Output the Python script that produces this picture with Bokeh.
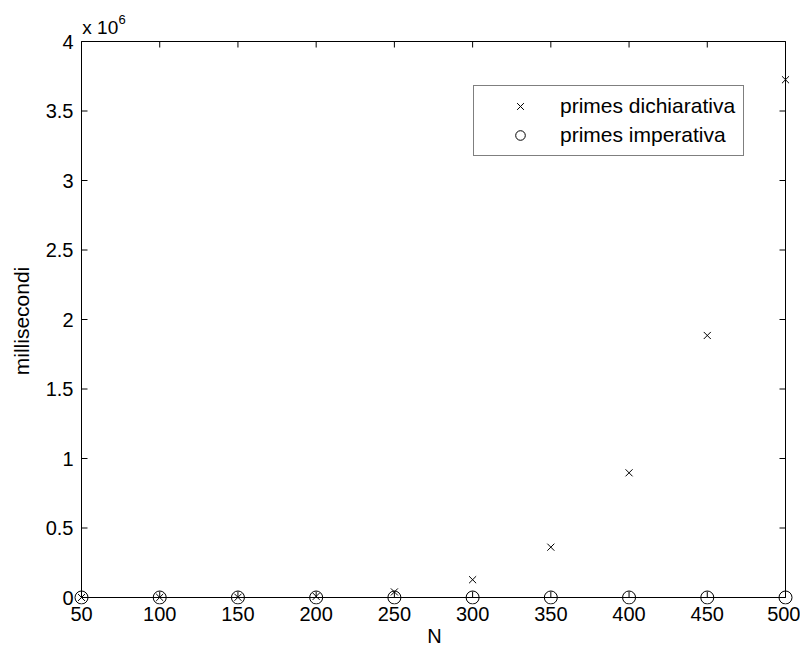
import math
from bokeh.plotting import figure
from bokeh.models import FixedTicker, LinearAxis, Legend, LegendItem, Range1d
from bokeh.embed import file_html
from bokeh.resources import INLINE

# ---- data ----
N = [50, 100, 150, 200, 250, 300, 350, 400, 450, 500]
primes_dichiarativa = [200, 600, 1500, 8000, 40000, 128000, 362000, 897000, 1885000, 3725000]
primes_imperativa = [1, 2, 4, 7, 10, 14, 19, 25, 32, 40]

x_ticks = [50, 100, 150, 200, 250, 300, 350, 400, 450, 500]
y_ticks = [0, 500000, 1000000, 1500000, 2000000, 2500000, 3000000, 3500000, 4000000]
y_tick_labels = ["0", "0.5", "1", "1.5", "2", "2.5", "3", "3.5", "4"]
scale_text = "x 10"
scale_exp = "6"

X_MIN, X_MAX = 50, 500
Y_MIN, Y_MAX = 0, 4000000

# ---- layout (pixels) ----
BOX_W, BOX_H = 704, 556
EXT_L, EXT_R, EXT_T, EXT_B = 8, 10, 4, 7
ux = (X_MAX - X_MIN) / BOX_W
uy = (Y_MAX - Y_MIN) / BOX_H

FONT = "Liberation Sans"

p = figure(frame_width=BOX_W + EXT_L + EXT_R, frame_height=BOX_H + EXT_T + EXT_B,
           x_range=Range1d(X_MIN - EXT_L * ux, X_MAX + EXT_R * ux),
           y_range=Range1d(Y_MIN - EXT_B * uy, Y_MAX + EXT_T * uy),
           output_backend="svg", toolbar_location=None,
           min_border_left=73, min_border_top=37, min_border_right=5, min_border_bottom=47)
p.background_fill_color = "white"
p.border_fill_color = "white"
p.grid.visible = False
p.outline_line_color = None

# axes box
p.quad(left=[X_MIN], right=[X_MAX], bottom=[Y_MIN], top=[Y_MAX],
       fill_color=None, line_color="black", line_width=1)
# inward ticks on all four sides
p.ray(x=x_ticks, y=[Y_MAX] * len(x_ticks), length=6, length_units="screen",
      angle=-math.pi / 2, line_color="black", line_width=1)
p.ray(x=x_ticks, y=[Y_MIN] * len(x_ticks), length=6, length_units="screen",
      angle=math.pi / 2, line_color="black", line_width=1)
p.ray(x=[X_MAX] * len(y_ticks), y=y_ticks, length=6, length_units="screen",
      angle=math.pi, line_color="black", line_width=1)
p.ray(x=[X_MIN] * len(y_ticks), y=y_ticks, length=6, length_units="screen",
      angle=0, line_color="black", line_width=1)

def plain(ax, size):
    ax.major_tick_in = 0
    ax.major_tick_out = 0
    ax.major_tick_line_color = None
    ax.minor_tick_line_color = None
    ax.axis_line_color = None
    ax.major_label_text_font = FONT
    ax.major_label_text_font_size = size
    ax.major_label_text_color = "black"
    ax.axis_label_text_font = FONT
    ax.axis_label_text_font_style = "normal"
    ax.axis_label_text_color = "black"

xa = p.xaxis[0]
ya = p.yaxis[0]
xa.ticker = FixedTicker(ticks=x_ticks)
ya.ticker = FixedTicker(ticks=y_ticks)
ya.major_label_overrides = {t: l for t, l in zip(y_ticks, y_tick_labels)}
plain(xa, "20px")
plain(ya, "20px")
xa.axis_label_text_font_size = "20px"
ya.axis_label_text_font_size = "21px"
xa.axis_label = "N"
ya.axis_label = "millisecondi"
xa.major_label_standoff = 2
ya.major_label_standoff = 0
xa.axis_label_standoff = 1
ya.axis_label_standoff = 10

# "x 10^6" scale note above the top-left corner (as top-axis labels)
pos_a = round(X_MIN + 18 * ux)
pos_b = round(X_MIN + 40.6 * ux)
top_a = LinearAxis(ticker=FixedTicker(ticks=[pos_a]), major_label_overrides={pos_a: scale_text})
top_b = LinearAxis(ticker=FixedTicker(ticks=[pos_b]), major_label_overrides={pos_b: scale_exp})
plain(top_a, "19px")
plain(top_b, "13px")
top_a.major_label_standoff = 0
top_b.major_label_standoff = -10
p.add_layout(top_a, "above")
p.add_layout(top_b, "above")

r1 = p.scatter(N, primes_dichiarativa, marker="x", size=10, line_color="black", line_width=1)
r2 = p.scatter(N, primes_imperativa, marker="circle", size=13, line_color="black",
               fill_color=None, line_width=1)

legend = Legend(items=[LegendItem(label="primes dichiarativa", renderers=[r1]),
                       LegendItem(label="primes imperativa", renderers=[r2])],
                location=(400, 448))
legend.label_text_font = FONT
legend.label_text_font_size = "21px"
legend.label_text_color = "black"
legend.border_line_color = "black"
legend.border_line_width = 1
legend.background_fill_color = "white"
legend.background_fill_alpha = 1
legend.padding = 8
legend.spacing = 5
legend.label_height = 24
legend.glyph_height = 24
legend.glyph_width = 76
legend.label_standoff = 2
legend.margin = 0
p.add_layout(legend, "center")

open("out.html", "w").write(file_html(p, INLINE))
